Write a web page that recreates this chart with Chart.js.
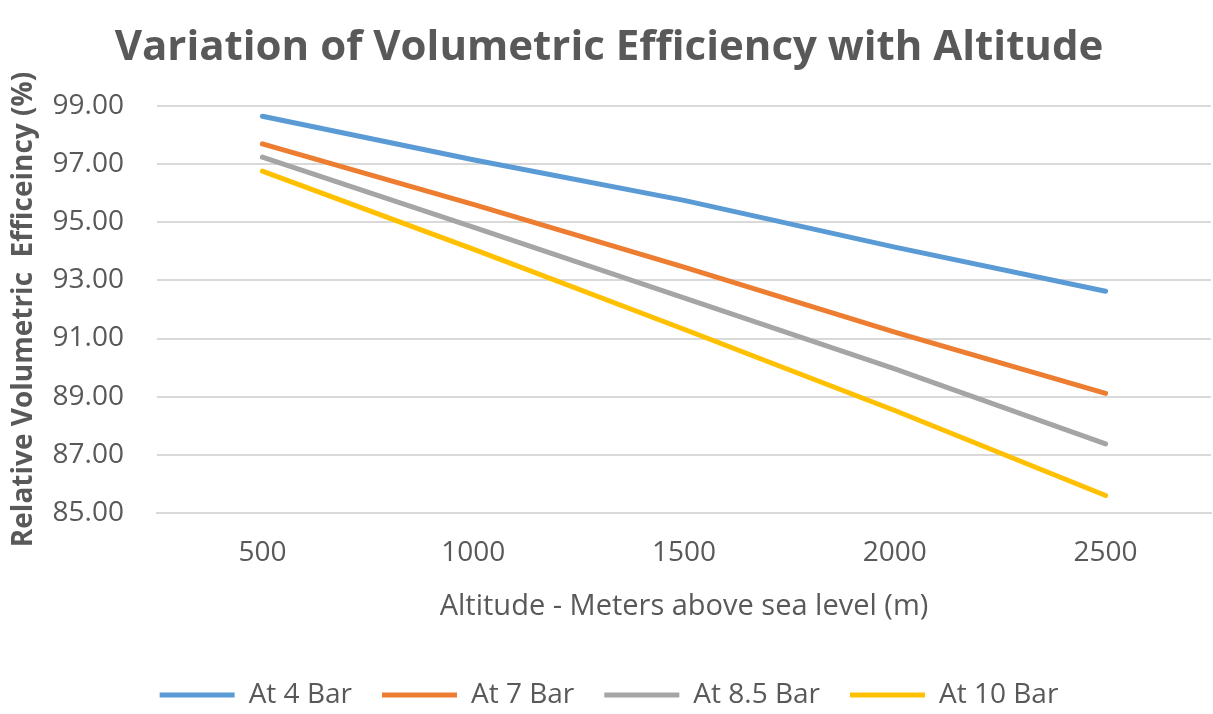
<!DOCTYPE html>
<html>
<head>
<meta charset="utf-8">
<script src="https://cdn.jsdelivr.net/npm/chart.js@4.4.0/dist/chart.umd.min.js"></script>
<style>
  html, body { margin: 0; padding: 0; background: #ffffff; }
  #wrap { width: 1213px; height: 714px; position: relative; }
</style>
</head>
<body>
<div id="wrap"><canvas id="chart"></canvas></div>
<script>
// Altitude categories (m)
const altitudes = ['500', '1000', '1500', '2000', '2500'];

// Relative volumetric efficiency (%)
const at4Bar = [98.66, 97.16, 95.76, 94.15, 92.63];
const at7Bar = [97.71, 95.62, 93.46, 91.22, 89.11];
const at85Bar = [97.25, 94.84, 92.40, 89.95, 87.37];
const at10Bar = [96.77, 94.08, 91.32, 88.52, 85.59];

const seriesNames = ['At 4 Bar', 'At 7 Bar', 'At 8.5 Bar', 'At 10 Bar'];
const seriesColors = ['#5B9BD5', '#ED7D31', '#A5A5A5', '#FFC000'];

const textColor = '#595959';
const gridColor = '#d9d9d9';
const fontFamily = '"Open Sans", "Liberation Sans", sans-serif';

function makeSet(i, values) {
    return {
        label: seriesNames[i],
        data: values,
        borderColor: seriesColors[i],
        backgroundColor: seriesColors[i],
        borderWidth: 5,
        borderCapStyle: 'round',
        pointRadius: 0,
        tension: 0
    };
}

const whiteBg = {
    id: 'whiteBg',
    beforeDraw(chart) {
        const c = chart.ctx;
        c.save();
        c.fillStyle = '#ffffff';
        c.fillRect(0, 0, chart.width, chart.height);
        c.restore();
    }
};

new Chart(document.getElementById('chart'), {
    type: 'line',
    data: {
        labels: altitudes,
        datasets: [
            makeSet(0, at4Bar),
            makeSet(1, at7Bar),
            makeSet(2, at85Bar),
            makeSet(3, at10Bar)
        ]
    },
    options: {
        responsive: true,
        maintainAspectRatio: false,
        animation: false,
        layout: { padding: { left: 7, right: 2, top: 0, bottom: -5 } },
        plugins: {
            title: {
                display: true,
                text: 'Variation of Volumetric Efficiency with Altitude',
                color: textColor,
                font: { family: fontFamily, size: 42, weight: 'bold' },
                padding: { top: 23, bottom: 33 }
            },
            legend: {
                position: 'bottom',
                labels: {
                    color: textColor,
                    font: { family: fontFamily, size: 28 },
                    usePointStyle: true,
                    pointStyle: 'line',
                    pointStyleWidth: 75,
                    boxHeight: 10,
                    padding: 30
                }
            },
            tooltip: { enabled: false }
        },
        scales: {
            x: {
                offset: true,
                grid: { display: false, drawTicks: false },
                border: { color: gridColor, width: 2 },
                ticks: {
                    color: textColor,
                    font: { family: fontFamily, size: 28 },
                    padding: 24
                },
                title: {
                    display: true,
                    text: 'Altitude - Meters above sea level (m)',
                    color: textColor,
                    font: { family: fontFamily, size: 29 },
                    padding: { top: -5, bottom: 27 }
                }
            },
            y: {
                min: 85,
                max: 99,
                grid: { color: gridColor, lineWidth: 2, drawTicks: false },
                border: { display: false },
                ticks: {
                    stepSize: 2,
                    color: textColor,
                    font: { family: fontFamily, size: 28 },
                    padding: 33,
                    callback: v => v.toFixed(2)
                },
                title: {
                    display: true,
                    text: 'Relative Volumetric  Efficeincy (%)',
                    color: textColor,
                    font: { family: fontFamily, size: 28, weight: 'bold' },
                    padding: { top: 0, bottom: -21 }
                }
            }
        }
    },
    plugins: [whiteBg]
});
</script>
</body>
</html>
